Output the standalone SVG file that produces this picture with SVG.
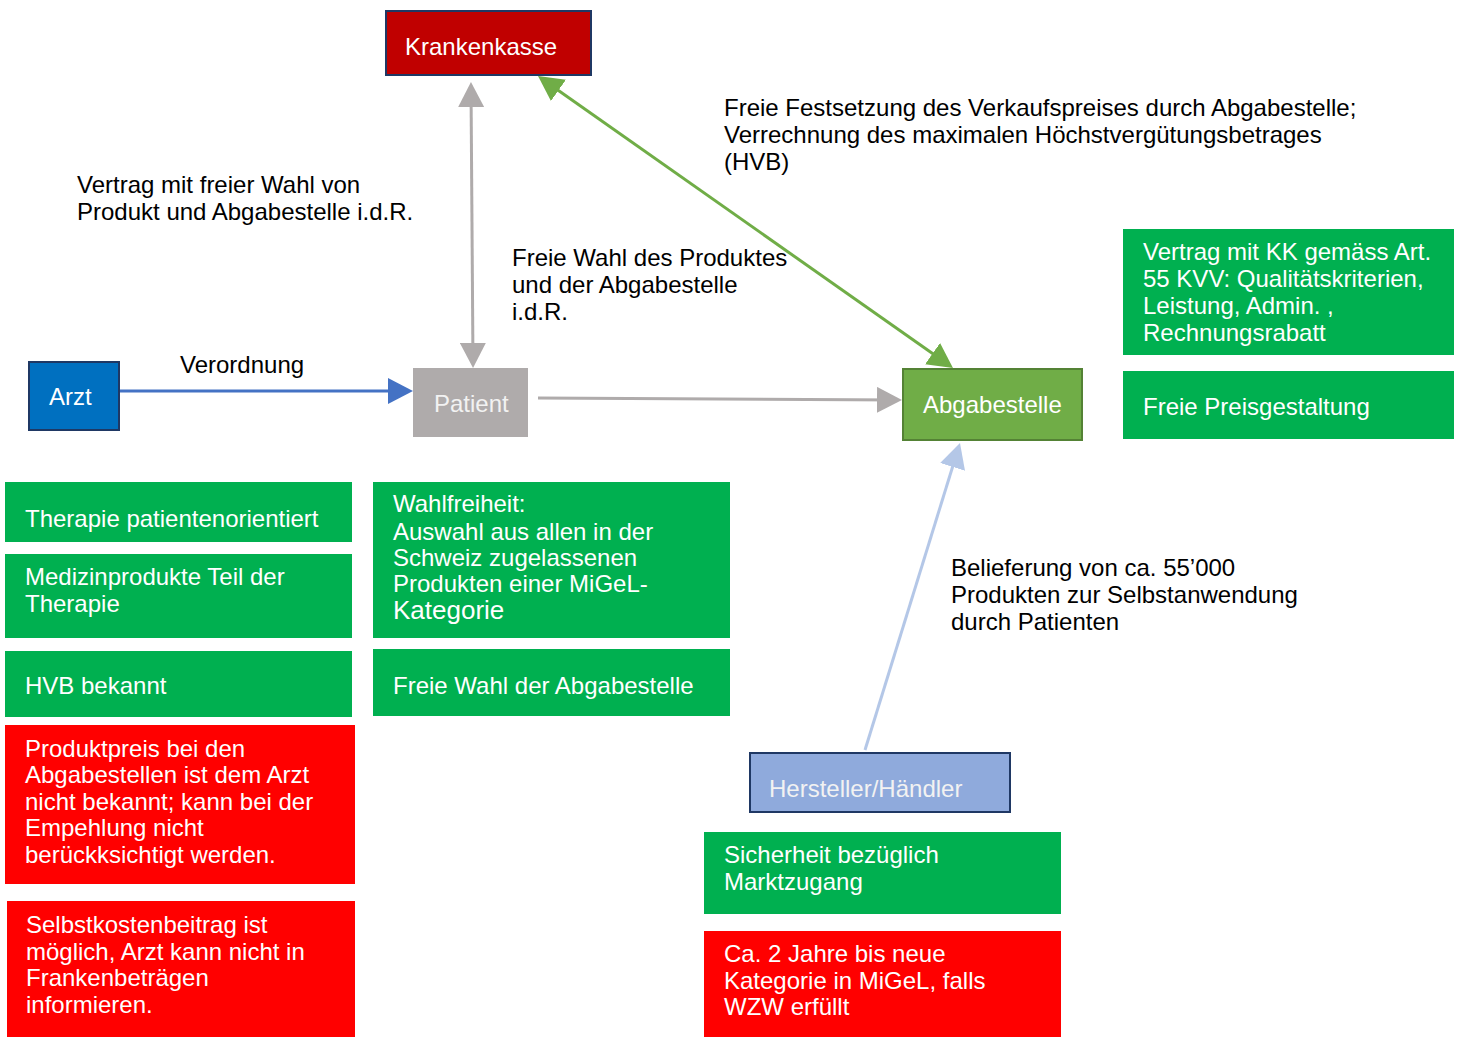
<svg xmlns="http://www.w3.org/2000/svg" width="1459" height="1037" viewBox="0 0 1459 1037">
<defs>
<style>
text{font-family:"Liberation Sans",Arial,sans-serif;font-size:24px}
.lbl{fill:#000}
.wt{fill:#fff}
.g{fill:#00B050}
.r{fill:#FF0000}
.ln{fill:none;stroke-width:3}
</style>
<marker id="aBlue" viewBox="0 0 25 26" markerWidth="25" markerHeight="26" refX="20" refY="13" orient="auto-start-reverse" markerUnits="userSpaceOnUse"><path d="M0,0 L25,13 L0,26 z" fill="#4472C4"/></marker>
<marker id="aGray" viewBox="0 0 25 26" markerWidth="25" markerHeight="26" refX="20" refY="13" orient="auto-start-reverse" markerUnits="userSpaceOnUse"><path d="M0,0 L25,13 L0,26 z" fill="#AFABAB"/></marker>
<marker id="aGreen" viewBox="0 0 25 26" markerWidth="25" markerHeight="26" refX="20" refY="13" orient="auto-start-reverse" markerUnits="userSpaceOnUse"><path d="M0,0 L25,13 L0,26 z" fill="#70AD47"/></marker>
<marker id="aLight" viewBox="0 0 25 26" markerWidth="25" markerHeight="26" refX="20" refY="13" orient="auto-start-reverse" markerUnits="userSpaceOnUse"><path d="M0,0 L25,13 L0,26 z" fill="#B4C7E7"/></marker>
</defs>
<rect width="1459" height="1037" fill="#fff"/>

<g id="connectors">
<line class="ln" x1="119" y1="391" x2="408" y2="391" stroke="#4472C4" marker-end="url(#aBlue)"/>
<line class="ln" x1="471" y1="87" x2="473" y2="363" stroke="#AFABAB" marker-start="url(#aGray)" marker-end="url(#aGray)"/>
<line class="ln" x1="538" y1="398" x2="897" y2="400" stroke="#AFABAB" marker-end="url(#aGray)"/>
<line class="ln" x1="542.1" y1="78.9" x2="948.9" y2="365.1" stroke="#70AD47" marker-start="url(#aGreen)" marker-end="url(#aGreen)"/>
<line class="ln" x1="865" y1="750" x2="958.5" y2="447.8" stroke="#B4C7E7" marker-end="url(#aLight)"/>
</g>

<g id="labels">
<text class="lbl" x="724" y="116">Freie Festsetzung des Verkaufspreises durch Abgabestelle;</text>
<text class="lbl" x="724" y="143">Verrechnung des maximalen Höchstvergütungsbetrages</text>
<text class="lbl" x="724" y="170">(HVB)</text>
<text class="lbl" x="77" y="193">Vertrag mit freier Wahl von</text>
<text class="lbl" x="77" y="220">Produkt und Abgabestelle i.d.R.</text>
<text class="lbl" x="512" y="266">Freie Wahl des Produktes</text>
<text class="lbl" x="512" y="293">und der Abgabestelle</text>
<text class="lbl" x="512" y="320">i.d.R.</text>
<text class="lbl" x="180" y="373">Verordnung</text>
<text class="lbl" x="951" y="576">Belieferung von ca. 55’000</text>
<text class="lbl" x="951" y="603">Produkten zur Selbstanwendung</text>
<text class="lbl" x="951" y="630">durch Patienten</text>
</g>

<g id="krankenkasse">
<rect x="386" y="11" width="205" height="64" fill="#C00000" stroke="#1F3864" stroke-width="2"/>
<text class="wt" x="405" y="55">Krankenkasse</text>
</g>
<g id="arzt">
<rect x="29" y="362" width="90" height="68" fill="#0070C0" stroke="#1F3864" stroke-width="2"/>
<text class="wt" x="49" y="405">Arzt</text>
</g>
<g id="patient">
<rect x="413" y="368" width="115" height="69" fill="#AFABAB"/>
<text x="434" y="412" fill="#F2F2F2">Patient</text>
</g>
<g id="abgabestelle">
<rect x="903" y="369" width="179" height="71" fill="#70AD47" stroke="#548235" stroke-width="2"/>
<text class="wt" x="923" y="413">Abgabestelle</text>
</g>
<g id="hersteller">
<rect x="750" y="753" width="260" height="59" fill="#8FAADC" stroke="#1F3864" stroke-width="2"/>
<text x="769" y="797" fill="#F2F2F2">Hersteller/Händler</text>
</g>

<g id="box-vertrag-kk">
<rect class="g" x="1123" y="229" width="331" height="126"/>
<text class="wt" x="1143" y="260">Vertrag mit KK gemäss Art.</text>
<text class="wt" x="1143" y="287">55 KVV: Qualitätskriterien,</text>
<text class="wt" x="1143" y="314">Leistung, Admin. ,</text>
<text class="wt" x="1143" y="341">Rechnungsrabatt</text>
</g>
<g id="box-preisgestaltung">
<rect class="g" x="1123" y="371" width="331" height="68"/>
<text class="wt" x="1143" y="415">Freie Preisgestaltung</text>
</g>

<g id="box-therapie">
<rect class="g" x="5" y="482" width="347" height="60"/>
<text class="wt" x="25" y="527">Therapie patientenorientiert</text>
</g>
<g id="box-medizinprodukte">
<rect class="g" x="5" y="554" width="347" height="84"/>
<text class="wt" x="25" y="585">Medizinprodukte Teil der</text>
<text class="wt" x="25" y="612">Therapie</text>
</g>
<g id="box-hvb">
<rect class="g" x="5" y="651" width="347" height="66"/>
<text class="wt" x="25" y="694">HVB bekannt</text>
</g>
<g id="box-produktpreis">
<rect class="r" x="5" y="725" width="350" height="159"/>
<text class="wt" x="25" y="757">Produktpreis bei den</text>
<text class="wt" x="25" y="783">Abgabestellen ist dem Arzt</text>
<text class="wt" x="25" y="810">nicht bekannt; kann bei der</text>
<text class="wt" x="25" y="836">Empehlung nicht</text>
<text class="wt" x="25" y="863">berückksichtigt werden.</text>
</g>
<g id="box-selbstkosten">
<rect class="r" x="7" y="901" width="348" height="136"/>
<text class="wt" x="26" y="933">Selbstkostenbeitrag ist</text>
<text class="wt" x="26" y="960">möglich, Arzt kann nicht in</text>
<text class="wt" x="26" y="986">Frankenbeträgen</text>
<text class="wt" x="26" y="1013">informieren.</text>
</g>

<g id="box-wahlfreiheit">
<rect class="g" x="373" y="482" width="357" height="156"/>
<text class="wt" x="393" y="512">Wahlfreiheit:</text>
<text class="wt" x="393" y="540">Auswahl aus allen in der</text>
<text class="wt" x="393" y="566">Schweiz zugelassenen</text>
<text class="wt" x="393" y="592">Produkten einer MiGeL-</text>
<text class="wt" x="393" y="619" style="font-size:26px">Kategorie</text>
</g>
<g id="box-freie-wahl">
<rect class="g" x="373" y="649" width="357" height="67"/>
<text class="wt" x="393" y="694">Freie Wahl der Abgabestelle</text>
</g>

<g id="box-sicherheit">
<rect class="g" x="704" y="832" width="357" height="82"/>
<text class="wt" x="724" y="863">Sicherheit bezüglich</text>
<text class="wt" x="724" y="890">Marktzugang</text>
</g>
<g id="box-jahre">
<rect class="r" x="704" y="931" width="357" height="106"/>
<text class="wt" x="724" y="962">Ca. 2 Jahre bis neue</text>
<text class="wt" x="724" y="989">Kategorie in MiGeL, falls</text>
<text class="wt" x="724" y="1015">WZW erfüllt</text>
</g>
</svg>
